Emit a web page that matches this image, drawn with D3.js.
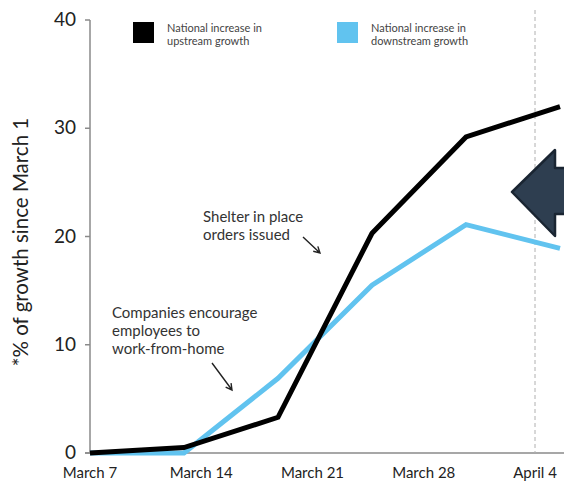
<!DOCTYPE html>
<html>
<head>
    <title>Growth since March 1</title>
    <script src="https://cdnjs.cloudflare.com/ajax/libs/d3/7.8.5/d3.min.js"></script>
    <style>
        html, body {
            margin: 0;
            padding: 0;
            background: white;
        }
        svg {
            display: block;
            font-family: 'Lato', 'Noto Sans', sans-serif;
        }
    </style>
</head>
<body>
    <div id="chart"></div>
    <script>
        // values
        const xLabels = ["March 7", "March 14", "March 21", "March 28", "April 4"];
        const labelDays = [0, 7, 14, 21, 28];
        const periods = [0, 1, 2, 3, 4, 5];
        const upstream = [0, 0.5, 3.3, 20.3, 29.2, 32.0];
        const downstream = [0, 0, 6.9, 15.5, 21.1, 18.9];
        const yTicks = [0, 10, 20, 30, 40];
        const markerDay = 28;
        const seriesNames = [["National increase in", "upstream growth"], ["National increase in", "downstream growth"]];
        const seriesColors = ["#000000", "#61C3EF"];

        const width = 564, height = 483;

        const svg = d3.select("#chart")
            .append("svg")
            .attr("width", width)
            .attr("height", height);

        const xAxis = d3.scaleLinear().domain([0, 28]).range([90, 535]);
        const xData = d3.scaleLinear().domain([0, 5]).range([90, 560]);
        const y = d3.scaleLinear().domain([0, 40]).range([453, 20]);

        // y axis
        svg.append("line")
            .attr("x1", 90).attr("x2", 90)
            .attr("y1", y(0)).attr("y2", y(40))
            .attr("stroke", "#8a8a8a").attr("stroke-width", 1.5);

        svg.selectAll(".ytick")
            .data(yTicks)
            .enter()
            .append("line")
            .attr("x1", 85).attr("x2", 90)
            .attr("y1", d => y(d)).attr("y2", d => y(d))
            .attr("stroke", "#8a8a8a").attr("stroke-width", 1.5);

        svg.selectAll(".ylabel")
            .data(yTicks)
            .enter()
            .append("text")
            .attr("x", 76)
            .attr("y", d => y(d) + 6)
            .attr("text-anchor", "end")
            .attr("font-size", "19px")
            .attr("fill", "#222")
            .text(d => d);

        svg.append("text")
            .attr("transform", "translate(28," + 242 + ") rotate(-90)")
            .attr("text-anchor", "middle")
            .attr("font-size", "20.5px")
            .attr("fill", "#222")
            .text("*% of growth since March 1");

        // x axis
        svg.append("line")
            .attr("x1", 85).attr("x2", width)
            .attr("y1", y(0)).attr("y2", y(0))
            .attr("stroke", "#8a8a8a").attr("stroke-width", 1.5);

        svg.selectAll(".xlabel")
            .data(xLabels)
            .enter()
            .append("text")
            .attr("x", (d, i) => xAxis(labelDays[i]))
            .attr("y", 478)
            .attr("text-anchor", "middle")
            .attr("font-size", "15px")
            .attr("fill", "#222")
            .text(d => d);

        // dashed marker
        svg.append("line")
            .attr("x1", xAxis(markerDay)).attr("x2", xAxis(markerDay))
            .attr("y1", 10).attr("y2", y(0))
            .attr("stroke", "#b0b0b0").attr("stroke-width", 1)
            .attr("stroke-dasharray", "4,3");

        // lines
        const line = d3.line()
            .x(d => xData(d[0]))
            .y(d => y(d[1]));

        [downstream, upstream].forEach((series, k) => {
            const color = k === 0 ? seriesColors[1] : seriesColors[0];
            svg.append("path")
                .datum(periods.map((p, i) => [p, series[i]]))
                .attr("d", line)
                .attr("fill", "none")
                .attr("stroke", color)
                .attr("stroke-width", 5);
        });

        // legend
        const legendX = [133, 337];
        seriesNames.forEach((lines, i) => {
            svg.append("rect")
                .attr("x", legendX[i]).attr("y", 22)
                .attr("width", 21).attr("height", 21)
                .attr("fill", seriesColors[i]);
            svg.append("text")
                .attr("x", legendX[i] + 34)
                .attr("y", 32)
                .attr("font-size", "11px")
                .attr("fill", "#444")
                .selectAll("tspan")
                .data(lines)
                .enter()
                .append("tspan")
                .attr("x", legendX[i] + 34)
                .attr("dy", (d, j) => j === 0 ? 0 : 13)
                .text(d => d);
        });

        // annotations
        function note(x, yy, lines) {
            svg.append("text")
                .attr("x", x).attr("y", yy)
                .attr("font-size", "15px")
                .attr("fill", "#333")
                .selectAll("tspan")
                .data(lines)
                .enter()
                .append("tspan")
                .attr("x", x)
                .attr("dy", (d, j) => j === 0 ? 0 : 18)
                .text(d => d);
        }

        function arrow(x0, y0, x1, y1) {
            const a = Math.atan2(y1 - y0, x1 - x0);
            const h = 7;
            const p1 = [x1 - h * Math.cos(a - 0.5), y1 - h * Math.sin(a - 0.5)];
            const p2 = [x1 - h * Math.cos(a + 0.5), y1 - h * Math.sin(a + 0.5)];
            svg.append("path")
                .attr("d", `M${x0},${y0}L${x1},${y1}M${p1}L${x1},${y1}L${p2}`)
                .attr("fill", "none")
                .attr("stroke", "#222")
                .attr("stroke-width", 1.4);
        }

        note(203, 222, ["Shelter in place", "orders issued"]);
        arrow(303, 237, 320, 253);
        note(112, 318, ["Companies encourage", "employees to", "work-from-home"]);
        arrow(212, 363, 232, 390);

        // big arrow shape on the right edge
        svg.append("path")
            .attr("d", "M512,192 L555,150 L555,168 L568,168 L568,214 L555,214 L555,236 Z")
            .attr("fill", "#2E3E50")
            .attr("stroke", "#1A2532")
            .attr("stroke-width", 2.5)
            .attr("stroke-linejoin", "round");
    </script>
</body>
</html>
